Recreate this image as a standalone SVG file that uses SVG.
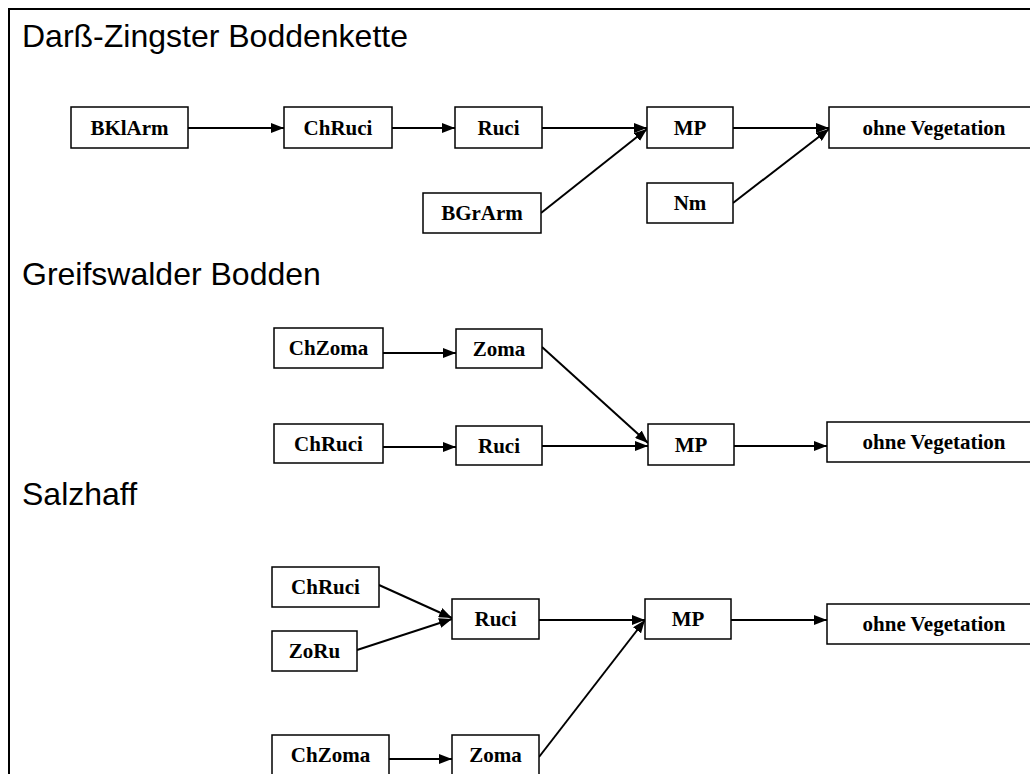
<svg xmlns="http://www.w3.org/2000/svg" width="1030" height="774" viewBox="0 0 1030 774">
<style>
.frame{fill:#fff;stroke:#000;stroke-width:2}
.box{fill:#fff;stroke:#000;stroke-width:1.5}
.lbl{font-family:"Liberation Serif","Times New Roman",serif;font-weight:bold;font-size:21px;text-anchor:middle;fill:#000}
.ttl{font-family:"Liberation Sans",Arial,sans-serif;font-size:32px;fill:#000}
.edge{stroke:#000;stroke-width:2;fill:none;marker-end:url(#arr)}
</style>
<defs>
<marker id="arr" markerUnits="userSpaceOnUse" markerWidth="13" markerHeight="10" refX="13" refY="5" orient="auto">
<path d="M0,0 L13,5 L0,10 z" fill="#000"/>
</marker>
</defs>
<rect x="0" y="0" width="1030" height="774" fill="#fff"/>
<rect class="frame" x="9" y="9" width="1040" height="790"/>
<text class="ttl" x="22" y="47">Darß-Zingster Boddenkette</text>
<text class="ttl" x="22" y="285">Greifswalder Bodden</text>
<text class="ttl" x="22" y="505">Salzhaff</text>
<g id="connectors">
<line class="edge" x1="188" y1="128" x2="284" y2="128"/>
<line class="edge" x1="392" y1="128" x2="455" y2="128"/>
<line class="edge" x1="542" y1="128" x2="647" y2="128"/>
<line class="edge" x1="541" y1="213" x2="647" y2="129"/>
<line class="edge" x1="733" y1="128" x2="829" y2="128"/>
<line class="edge" x1="733" y1="203" x2="829" y2="129"/>
<line class="edge" x1="383" y1="353" x2="456" y2="353"/>
<line class="edge" x1="383" y1="447" x2="456" y2="447"/>
<line class="edge" x1="542" y1="347" x2="648" y2="443"/>
<line class="edge" x1="542" y1="446" x2="648" y2="446"/>
<line class="edge" x1="734" y1="446" x2="827" y2="446"/>
<line class="edge" x1="379" y1="585" x2="452" y2="618"/>
<line class="edge" x1="357" y1="650" x2="452" y2="619"/>
<line class="edge" x1="539" y1="620" x2="645" y2="620"/>
<line class="edge" x1="539" y1="757" x2="645" y2="620"/>
<line class="edge" x1="731" y1="620" x2="827" y2="620"/>
<line class="edge" x1="389" y1="759" x2="452" y2="759"/>
</g>
<g id="s1-bklarm"><rect class="box" x="71" y="107" width="117" height="41"/><text class="lbl" x="129.5" y="135">BKlArm</text></g>
<g id="s1-chruci"><rect class="box" x="284" y="107" width="108" height="41"/><text class="lbl" x="338" y="135">ChRuci</text></g>
<g id="s1-ruci"><rect class="box" x="455" y="107" width="87" height="41"/><text class="lbl" x="498.5" y="135">Ruci</text></g>
<g id="s1-mp"><rect class="box" x="647" y="107" width="86" height="41"/><text class="lbl" x="690" y="135">MP</text></g>
<g id="s1-ohne"><rect class="box" x="829" y="107" width="220" height="41"/><text class="lbl" x="934" y="135">ohne Vegetation</text></g>
<g id="s1-bgrarm"><rect class="box" x="423" y="193" width="118" height="40"/><text class="lbl" x="482" y="220">BGrArm</text></g>
<g id="s1-nm"><rect class="box" x="647" y="183" width="86" height="40"/><text class="lbl" x="690" y="210">Nm</text></g>
<g id="s2-chzoma"><rect class="box" x="274" y="328" width="109" height="40"/><text class="lbl" x="328.5" y="355">ChZoma</text></g>
<g id="s2-zoma"><rect class="box" x="456" y="329" width="86" height="39"/><text class="lbl" x="499" y="356">Zoma</text></g>
<g id="s2-chruci"><rect class="box" x="274" y="424" width="109" height="39"/><text class="lbl" x="328.5" y="451">ChRuci</text></g>
<g id="s2-ruci"><rect class="box" x="456" y="426" width="86" height="39"/><text class="lbl" x="499" y="453">Ruci</text></g>
<g id="s2-mp"><rect class="box" x="648" y="424" width="86" height="41"/><text class="lbl" x="691" y="452">MP</text></g>
<g id="s2-ohne"><rect class="box" x="827" y="422" width="222" height="40"/><text class="lbl" x="934" y="449">ohne Vegetation</text></g>
<g id="s3-chruci"><rect class="box" x="272" y="567" width="107" height="40"/><text class="lbl" x="325.5" y="594">ChRuci</text></g>
<g id="s3-zoru"><rect class="box" x="272" y="631" width="85" height="40"/><text class="lbl" x="314.5" y="658">ZoRu</text></g>
<g id="s3-ruci"><rect class="box" x="452" y="599" width="87" height="40"/><text class="lbl" x="495.5" y="626">Ruci</text></g>
<g id="s3-mp"><rect class="box" x="645" y="599" width="86" height="40"/><text class="lbl" x="688" y="626">MP</text></g>
<g id="s3-ohne"><rect class="box" x="827" y="604" width="222" height="40"/><text class="lbl" x="934" y="631">ohne Vegetation</text></g>
<g id="s3-chzoma"><rect class="box" x="272" y="735" width="117" height="40"/><text class="lbl" x="330.5" y="762">ChZoma</text></g>
<g id="s3-zoma"><rect class="box" x="452" y="735" width="87" height="40"/><text class="lbl" x="495.5" y="762">Zoma</text></g>
</svg>
